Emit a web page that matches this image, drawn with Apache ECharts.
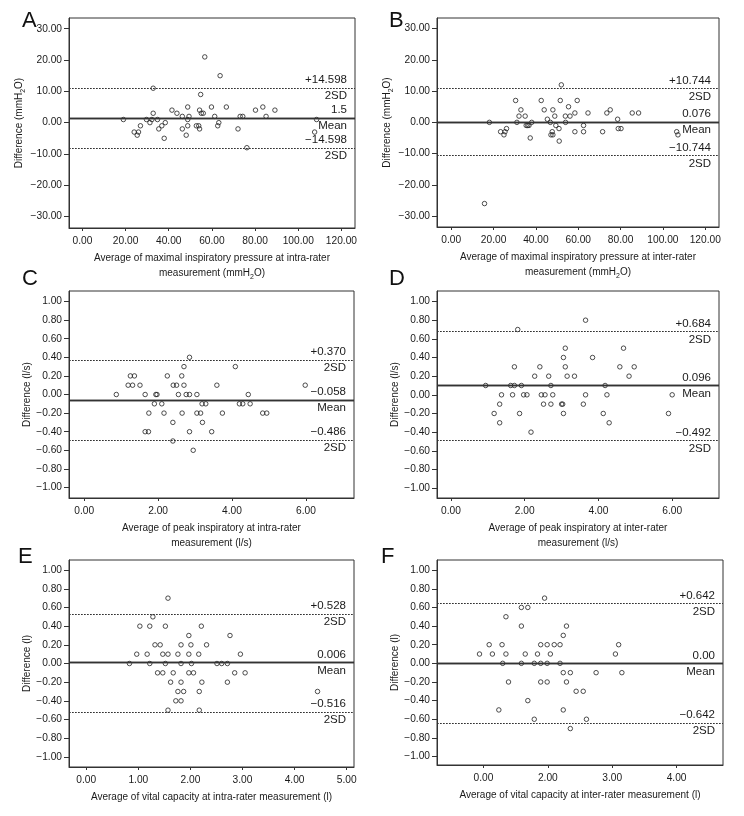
<!DOCTYPE html>
<html><head><meta charset="utf-8">
<script src="https://cdn.jsdelivr.net/npm/echarts@6/dist/echarts.min.js"></script>
<style>html,body{margin:0;padding:0;background:#fff}#c{width:744px;height:816px}</style>
</head><body><div id="c"></div><script>
// ---------- data ----------
const aX=[19.0,24.0,25.4,26.0,26.9,29.7,31.3,32.2,32.8,32.8,34.8,35.4,36.8,37.9,38.4,41.5,43.8,46.3,46.3,48.1,48.8,48.8,48.8,49.4,52.8,53.9,54.3,54.3,54.8,55.1,56.0,56.7,59.8,61.3,62.7,63.2,63.8,66.7,72.1,73.1,74.3,76.2,80.2,83.6,85.1,89.2,107.6,108.5];
const aY=[1,-3,-4,-3,-1,1,0,1,11,3,1,-2,-1,-5,0,4,3,2,-2,-4,5,1,-1,2,-1,-1,-2,4,9,3,3,21,5,2,-1,0,15,5,-2,2,2,-8,4,5,2,4,-3,1];
const bX=[15.7,18.0,23.3,24.9,25.4,26.1,30.4,31.0,32.0,32.9,34.9,35.4,36.1,36.7,37.3,38.0,42.5,43.9,45.4,46.8,47.1,47.7,48.0,48.0,48.9,49.4,50.9,51.0,51.5,52.0,53.9,54.0,55.4,56.1,58.4,58.4,59.5,62.5,62.5,64.6,71.5,73.5,75.1,78.6,78.9,80.2,85.5,88.5,106.5,107.1];
const bY=[-26,0,-3,-4,-3,-2,7,0,2,4,2,-1,-1,-1,-5,0,7,4,1,0,-4,-3,-4,4,2,-1,-2,-6,7,12,2,0,5,2,3,-3,7,-1,-3,3,-3,3,4,1,-2,-2,3,3,-3,-4];
const cX=[0.87,1.19,1.25,1.31,1.36,1.51,1.65,1.65,1.74,1.75,1.90,1.94,1.97,2.10,2.16,2.25,2.40,2.40,2.41,2.50,2.55,2.64,2.65,2.70,2.70,2.76,2.85,2.85,2.85,2.95,3.05,3.05,3.15,3.19,3.20,3.29,3.45,3.59,3.74,4.09,4.20,4.29,4.44,4.49,4.83,4.94,5.98];
const cY=[0,0.1,0.2,0.1,0.2,0.1,0,-0.4,-0.4,-0.2,-0.1,0,0,-0.1,-0.2,0.2,-0.3,-0.5,0.1,0.1,0,0.2,-0.2,0.3,0.1,0,0.4,0,-0.4,-0.6,0,-0.2,-0.2,-0.1,-0.3,-0.1,-0.4,0.1,-0.2,0.3,-0.1,-0.1,0,-0.1,-0.2,-0.2,0.1];
const dX=[0.94,1.17,1.32,1.32,1.37,1.62,1.67,1.72,1.72,1.81,1.86,1.91,1.97,2.06,2.17,2.27,2.41,2.45,2.51,2.55,2.65,2.71,2.71,2.76,3.00,3.03,3.05,3.05,3.10,3.10,3.15,3.35,3.59,3.65,3.65,3.84,4.13,4.18,4.23,4.29,4.58,4.68,4.83,4.97,5.90,6.00];
const dY=[0.1,-0.2,-0.1,-0.3,0,0.1,0,0.1,0.3,0.7,-0.2,0.1,0,0,-0.4,0.2,0.3,0,-0.1,0,0.2,0.1,-0.1,0,-0.1,-0.1,0.4,-0.2,0.5,0.3,0.2,0.2,-0.1,0.8,0,0.4,-0.2,0.1,0,-0.3,0.3,0.5,0.2,0.3,-0.2,0];
const eX=[0.83,0.97,1.03,1.17,1.22,1.22,1.28,1.32,1.37,1.42,1.47,1.47,1.52,1.52,1.57,1.57,1.57,1.62,1.67,1.72,1.76,1.76,1.82,1.82,1.82,1.82,1.87,1.97,1.97,1.97,2.01,2.02,2.06,2.16,2.17,2.17,2.21,2.22,2.31,2.51,2.60,2.71,2.71,2.76,2.85,2.96,3.05,4.44];
const eY=[0,0.1,0.4,0.1,0.4,0,0.5,0.2,-0.1,0.2,0.1,-0.1,0.4,0,0.7,0.1,-0.5,-0.2,-0.1,-0.4,0.1,-0.3,0.2,0,-0.2,-0.4,-0.3,0.3,0.1,-0.1,0.2,0,-0.1,0.1,-0.3,-0.5,0.4,-0.2,0.2,0,0,0,-0.2,0.3,-0.1,0.1,-0.1,-0.3];
const fX=[-0.06,0.09,0.14,0.24,0.29,0.30,0.35,0.35,0.39,0.59,0.59,0.59,0.65,0.69,0.69,0.79,0.79,0.84,0.89,0.89,0.89,0.95,0.99,0.99,0.99,1.04,1.10,1.19,1.19,1.24,1.24,1.24,1.29,1.29,1.35,1.35,1.44,1.55,1.60,1.75,2.05,2.10,2.15];
const fY=[0.1,0.2,0.1,-0.5,0.2,0,0.5,0.1,-0.2,0.6,0.4,0,0.1,0.6,-0.4,0,-0.6,0.1,0.2,0,-0.2,0.7,0.2,0,-0.2,0.1,0.2,0.2,0,0.3,-0.1,-0.5,0.4,-0.2,-0.1,-0.7,-0.3,-0.3,-0.6,-0.1,0.1,0.2,-0.1];

// reference lines: [upper, mean, lower] and their labels
const aLineVals=[11.1,1.5,-8.1];     const aLineLabels=['+14.598','1.5','\u221214.598'];
const bLineVals=[10.82,0.076,-10.6]; const bLineLabels=['+10.744','0.076','\u221210.744'];
const cLineVals=[0.370,-0.058,-0.486]; const cLineLabels=['+0.370','\u22120.058','\u22120.486'];
const dLineVals=[0.684,0.096,-0.492];  const dLineLabels=['+0.684','0.096','\u22120.492'];
const eLineVals=[0.528,0.006,-0.516];  const eLineLabels=['+0.528','0.006','\u22120.516'];
const fLineVals=[0.642,0,-0.642];      const fLineLabels=['+0.642','0.00','\u22120.642'];

// ticks
const abYTicks=[-30,-20,-10,0,10,20,30];
const cdefYTicks=[-1,-0.8,-0.6,-0.4,-0.2,0,0.2,0.4,0.6,0.8,1];
const abXTicks=[0,20,40,60,80,100,120];
const cdXTicks=[0,2,4,6];
const eXTicks=[0,1,2,3,4,5];
const fXTicks=[0,1,2,3];
const fXTickLabels=['0.00','2.00','3.00','4.00'];

const letters=['A','B','C','D','E','F'];
const xNames=[
 'Average of maximal inspiratory pressure at intra-rater\nmeasurement (mmH{sub|2}O)',
 'Average of maximal inspiratory pressure at inter-rater\nmeasurement (mmH{sub|2}O)',
 'Average of peak inspiratory at intra-rater\nmeasurement (l/s)',
 'Average of peak inspiratory at inter-rater\nmeasurement (l/s)',
 'Average of vital capacity at intra-rater measurement (l)',
 'Average of vital capacity at inter-rater measurement (l)'];
const yNames=['Difference (mmH{sub|2}O)','Difference (mmH{sub|2}O)','Difference (l/s)','Difference (l/s)','Difference (l)','Difference (l)'];

// ---------- build ----------
const FONT='"Liberation Sans",Roboto,sans-serif';
const TITLE_SIZE=10, TICK_SIZE=10.2, LINE_LBL=11.5;
const TXT='#1a1a1a', LINE='#333';
const fmt=v=>(v<0?'\u2212':'')+Math.abs(v).toFixed(2);
const rich={sub:{fontSize:7,fontFamily:FONT,color:TXT,verticalAlign:'bottom',lineHeight:15}};

const panels=[
 {xs:aX,ys:aY,lv:aLineVals,ll:aLineLabels,grid:{left:69,top:18,width:286,height:210},x:[-6.2,126.3],y:[-33.65,33.43],xt:abXTicks,yt:abYTicks,xl:fmt},
 {xs:bX,ys:bY,lv:bLineVals,ll:bLineLabels,grid:{left:437,top:18,width:282,height:209},x:[-6.75,126.5],y:[-33.5,33.4],xt:abXTicks,yt:abYTicks,xl:fmt},
 {xs:cX,ys:cY,lv:cLineVals,ll:cLineLabels,grid:{left:69,top:291,width:285,height:207},x:[-0.41,7.30],y:[-1.113,1.113],xt:cdXTicks,yt:cdefYTicks,xl:fmt},
 {xs:dX,ys:dY,lv:dLineVals,ll:dLineLabels,grid:{left:437,top:291,width:282,height:207},x:[-0.38,7.27],y:[-1.106,1.113],xt:cdXTicks,yt:cdefYTicks,xl:fmt},
 {xs:eX,ys:eY,lv:eLineVals,ll:eLineLabels,grid:{left:69,top:560,width:285,height:207},x:[-0.33,5.14],y:[-1.109,1.109],xt:eXTicks,yt:cdefYTicks,xl:fmt},
 {xs:fX,ys:fY,lv:fLineVals,ll:fLineLabels,grid:{left:437,top:560,width:286,height:205},x:[-0.72,3.72],y:[-1.091,1.109],xt:fXTicks,yt:cdefYTicks,xl:v=>fXTickLabels[fXTicks.indexOf(Math.round(v))]}
];
const letterPos=[[22,10],[389,10],[22,268],[389,268],[18,546],[381,546]];

const option={animation:false,backgroundColor:'#fff',title:[],grid:[],xAxis:[],yAxis:[],series:[]};
panels.forEach((p,i)=>{
  option.title.push({text:letters[i],left:letterPos[i][0],top:letterPos[i][1],padding:0,
    textStyle:{fontFamily:FONT,fontSize:22,fontWeight:'normal',color:'#111'}});
  option.grid.push(Object.assign({show:true,borderColor:LINE,borderWidth:1,backgroundColor:'transparent'},p.grid));
  option.xAxis.push({type:'value',gridIndex:i,min:p.x[0],max:p.x[1],
    axisLine:{show:true,onZero:false,lineStyle:{color:LINE,width:1}},
    axisTick:{show:true,length:3,customValues:p.xt,lineStyle:{color:LINE}},
    axisLabel:{customValues:p.xt,formatter:p.xl,fontFamily:FONT,fontSize:TICK_SIZE,color:TXT,margin:8},
    splitLine:{show:false},
    name:xNames[i],nameLocation:'middle',nameGap:23,
    nameTextStyle:{fontFamily:FONT,fontSize:TITLE_SIZE,color:TXT,lineHeight:15,verticalAlign:'top',rich:rich}});
  option.yAxis.push({type:'value',gridIndex:i,min:p.y[0],max:p.y[1],
    axisLine:{show:true,onZero:false,lineStyle:{color:LINE,width:1}},
    axisTick:{show:true,length:5,customValues:p.yt,lineStyle:{color:LINE}},
    axisLabel:{customValues:p.yt,formatter:fmt,fontFamily:FONT,fontSize:TICK_SIZE,color:TXT,margin:7},
    splitLine:{show:false},
    name:yNames[i],nameLocation:'middle',nameGap:37,nameRotate:90,
    nameTextStyle:{fontFamily:FONT,fontSize:TITLE_SIZE,color:TXT,rich:rich}});
  const lblBase={fontFamily:FONT,fontSize:LINE_LBL,color:TXT,distance:[8,2]};
  const dotted={color:LINE,width:1,type:[1.5,1.5]};
  const solid={color:LINE,width:1.3,type:'solid'};
  const ml=[];
  p.lv.forEach((v,k)=>{
    const ls=k===1?solid:dotted;
    ml.push({yAxis:v,lineStyle:ls,label:Object.assign({},lblBase,{position:'insideEndTop',formatter:p.ll[k]})});
    ml.push({yAxis:v,lineStyle:ls,label:Object.assign({},lblBase,{position:'insideEndBottom',formatter:k===1?'Mean':'2SD'})});
  });
  option.series.push({type:'scatter',xAxisIndex:i,yAxisIndex:i,
    data:p.xs.map((x,k)=>[x,p.ys[k]]),
    symbol:'circle',symbolSize:4.5,
    itemStyle:{color:'rgba(0,0,0,0)',borderColor:'#222',borderWidth:1},
    markLine:{silent:true,symbol:['none','none'],animation:false,data:ml}});
});
const chart=echarts.init(document.getElementById('c'),null,{renderer:'canvas'});
chart.setOption(option);
</script></body></html>
